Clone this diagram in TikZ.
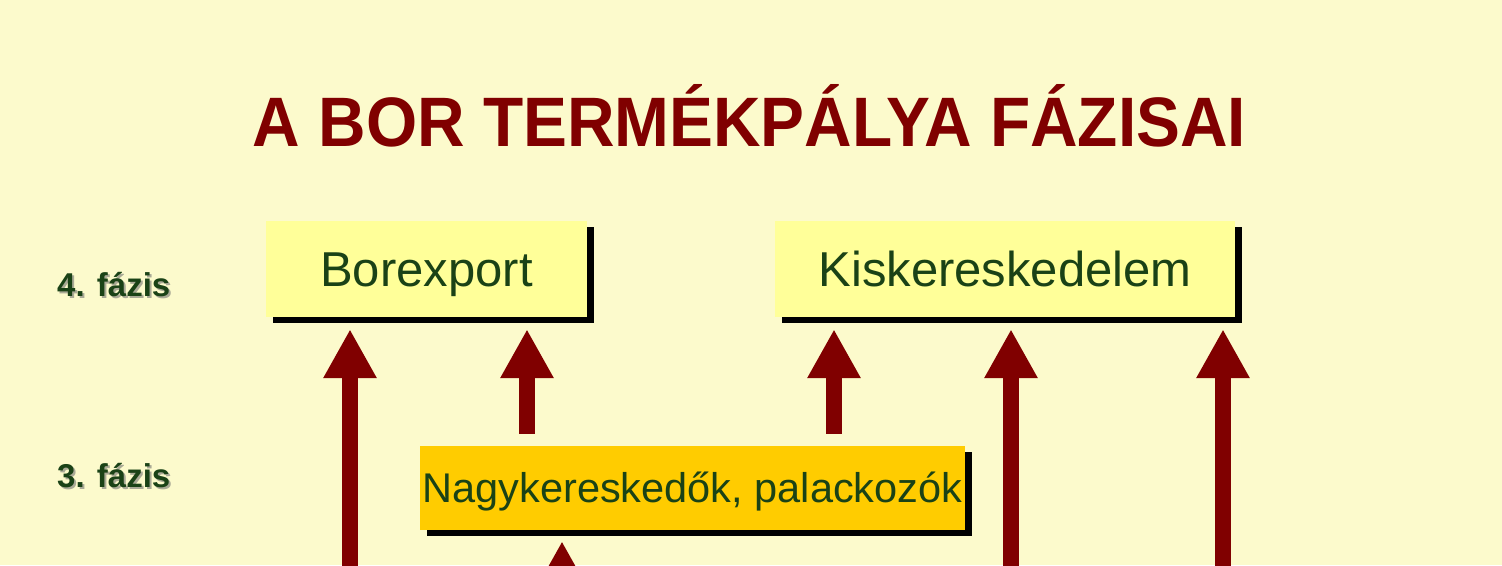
\documentclass[tikz,border=0pt]{standalone}
\usepackage{graphicx}
\usepackage{fontspec}
\setmainfont{Liberation Sans}
\usetikzlibrary{arrows.meta,shadows}
\definecolor{bgyellow}{RGB}{252,250,204}
\definecolor{boxyellow}{RGB}{255,255,153}
\definecolor{boxorange}{RGB}{255,204,0}
\definecolor{winered}{RGB}{128,0,0}
\definecolor{textgreen}{RGB}{26,66,22}
\definecolor{textshade}{RGB}{170,170,150}

\begin{document}
\begin{tikzpicture}[x=1pt,y=1pt,
    phasebox/.style={rectangle,inner sep=0pt,text=textgreen,text depth=0pt,
      drop shadow={shadow xshift=7pt,shadow yshift=-6pt,fill=black,opacity=1}},
    phaselabel/.style={anchor=base west,inner sep=0pt,text=textgreen,
      font=\fontsize{33}{36}\selectfont\bfseries},
    uparrow/.style={draw=winered,line width=16pt,
      -{Triangle[width=50pt,length=49pt]}}]
    \useasboundingbox (0,0) rectangle (1502,565);
    \clip (0,0) rectangle (1502,565);
    \fill[bgyellow] (0,0) rectangle (1502,565);
    % cim
    \node[anchor=base,inner sep=0pt,text=winered,font=\fontsize{70}{76}\selectfont\bfseries]
      (title) at (749.5,418) {\scalebox{0.94}[1]{A BOR TERMÉKPÁLYA FÁZISAI}};
    % fazisok
    \node[phaselabel,text=textshade] (f4s) at (59,266) {4. fázis};
    \node[phaselabel] (f4) at (57,268) {4. fázis};
    \node[phaselabel,text=textshade] (f3s) at (59,75) {3. fázis};
    \node[phaselabel] (f3) at (57,77) {3. fázis};
    % dobozok
    \node[phasebox,fill=boxyellow,minimum width=321pt,minimum height=96pt,text height=35pt,
      font=\fontsize{49}{54}\selectfont] (bor) at (426.5,296) {Borexport};
    \node[phasebox,fill=boxyellow,minimum width=460pt,minimum height=96pt,text height=35pt,
      font=\fontsize{49}{54}\selectfont] (kis) at (1005,296) {Kiskereskedelem};
    \node[phasebox,fill=boxorange,minimum width=545pt,minimum height=84pt,text height=30pt,
      font=\fontsize{41.5}{46}\selectfont] (nagy) at (692.5,77) {Nagykereskedők, palackozók};
    % nyilak
    \coordinate (c1) at (350,-60);
    \coordinate (c2) at (527,-60);
    \coordinate (c3) at (834,-60);
    \coordinate (c4) at (1011,-60);
    \coordinate (c5) at (1223,-60);
    \coordinate (c6) at (562,-60);
    \draw[uparrow] (c1) -- ([yshift=-12pt]bor.south -| c1);
    \draw[uparrow] ([yshift=12pt]nagy.north -| c2) -- ([yshift=-12pt]bor.south -| c2);
    \draw[uparrow] ([yshift=12pt]nagy.north -| c3) -- ([yshift=-12pt]kis.south -| c3);
    \draw[uparrow] (c4) -- ([yshift=-12pt]kis.south -| c4);
    \draw[uparrow] (c5) -- ([yshift=-12pt]kis.south -| c5);
    \draw[uparrow] (c6) -- ([yshift=-11pt]nagy.south -| c6);
  \end{tikzpicture}
\end{document}
